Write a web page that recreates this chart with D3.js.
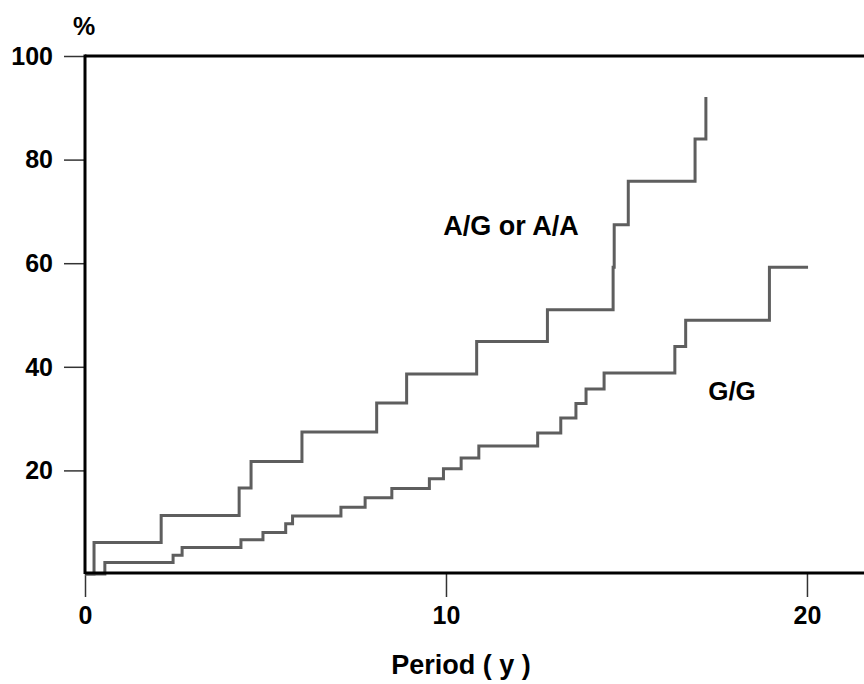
<!DOCTYPE html>
<html>
<head>
<meta charset="utf-8">
<script src="https://cdn.jsdelivr.net/npm/d3@7"></script>
<style>
  body { margin: 0; background: #fff; }
  #chart { width: 864px; height: 684px; }
  text { font-family: "Liberation Sans", Arial, sans-serif; font-weight: bold; fill: #000; }
</style>
</head>
<body>
<div id="chart"></div>
<script>
// step curves (time in years, cumulative %)
const agTimes = [0, 0.25, 2.11, 4.27, 4.6, 6.01, 8.08, 8.91, 10.85, 12.81, 14.63, 14.66, 15.05, 16.9, 17.2];
const agPct   = [0, 6.1, 11.3, 16.6, 21.7, 27.4, 33.0, 38.6, 44.9, 51.0, 59.2, 67.4, 75.8, 84.0, 92.1];

const ggTimes = [0, 0.55, 2.44, 2.69, 4.32, 4.93, 5.56, 5.75, 7.09, 7.76, 8.5, 9.54, 9.93, 10.42, 10.91,
                 12.54, 13.18, 13.6, 13.88, 14.38, 16.34, 16.64, 18.96, 20.03];
const ggPct   = [0, 2.2, 3.6, 5.1, 6.6, 8.0, 9.7, 11.2, 12.9, 14.7, 16.5, 18.4, 20.3, 22.4, 24.7,
                 27.2, 30.1, 32.9, 35.7, 38.8, 43.9, 49.0, 59.2, 59.2];

const seriesNames = ['A/G or A/A', 'G/G'];
const yTicks = [20, 40, 60, 80, 100];
const xTicks = [0, 10, 20];

const margin = { top: 56, right: 0, bottom: 110, left: 85 };
const width = 864 - margin.left - margin.right;
const height = 684 - margin.top - margin.bottom;

const x = d3.scaleLinear().domain([0, 21.58]).range([0, width]);
const y = d3.scaleLinear().domain([0, 100]).range([height, 0]);

const svg = d3.select('#chart')
  .append('svg')
  .attr('width', 864)
  .attr('height', 684)
  .append('g')
  .attr('transform', `translate(${margin.left},${margin.top})`);

// axes (ticks + labels)
const yAxis = d3.axisLeft(y).tickValues(yTicks).tickSize(21).tickPadding(11);
const yg = svg.append('g').call(yAxis);
yg.select('.domain').remove();
yg.selectAll('line').attr('stroke', '#333').attr('stroke-width', 1.5);
yg.selectAll('text').style('font-size', '25px').attr('dy', '0.33em');

const xAxis = d3.axisBottom(x).tickValues(xTicks).tickSize(24).tickPadding(9);
const xg = svg.append('g').attr('transform', `translate(0,${height - 1})`).call(xAxis);
xg.select('.domain').remove();
xg.selectAll('line').attr('stroke', '#333').attr('stroke-width', 1.5);
xg.selectAll('text').style('font-size', '25px');

// curves
const line = d3.line()
  .x(d => x(d[0]))
  .y(d => y(d[1]))
  .curve(d3.curveStepAfter);

const curves = [
  d3.zip(agTimes, agPct),
  d3.zip(ggTimes, ggPct)
];

svg.selectAll('.curve')
  .data(curves)
  .enter()
  .append('path')
  .attr('class', 'curve')
  .attr('d', line)
  .attr('fill', 'none')
  .attr('stroke', '#5e5e5e')
  .attr('stroke-width', 3);

// frame: top, left, bottom
svg.append('line').attr('x1', 0).attr('x2', width).attr('y1', 0).attr('y2', 0)
  .attr('stroke', '#000').attr('stroke-width', 3);
svg.append('line').attr('x1', 0).attr('x2', 0).attr('y1', -1.5).attr('y2', height)
  .attr('stroke', '#000').attr('stroke-width', 3);
svg.append('line').attr('x1', 0).attr('x2', width).attr('y1', height - 1).attr('y2', height - 1)
  .attr('stroke', '#000').attr('stroke-width', 3);

// labels
svg.append('text').attr('x', -1).attr('y', -21)
  .attr('text-anchor', 'middle').style('font-size', '25px').text('%');

svg.append('text').attr('x', 376).attr('y', 618)
  .attr('text-anchor', 'middle').style('font-size', '27px').text('Period ( y )');

svg.append('text').attr('x', 426).attr('y', 179)
  .attr('text-anchor', 'middle').style('font-size', '27px').text(seriesNames[0]);

svg.append('text').attr('x', 647).attr('y', 344)
  .attr('text-anchor', 'middle').style('font-size', '26px').text(seriesNames[1]);
</script>
</body>
</html>
